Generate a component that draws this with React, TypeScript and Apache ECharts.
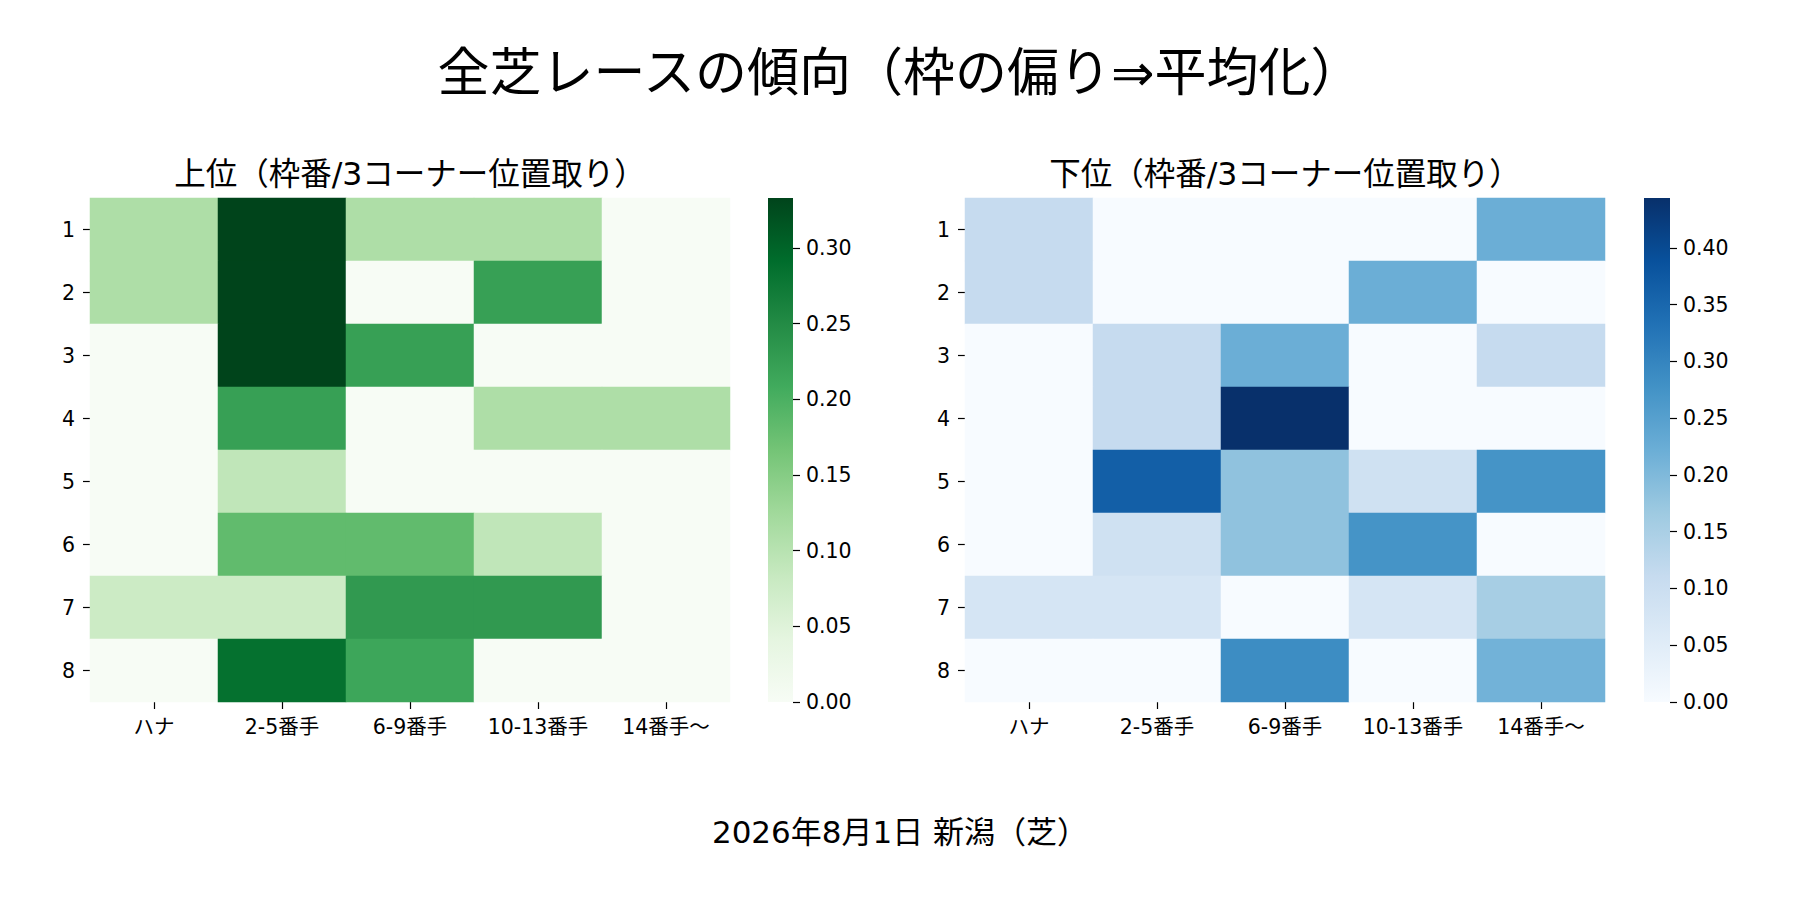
import React, { useEffect, useRef } from 'react';
import * as echarts from 'echarts';

const MAIN_TITLE = '全芝レースの傾向（枠の偏り⇒平均化）';
const TOP_TITLE = '上位（枠番/3コーナー位置取り）';
const BOTTOM_TITLE = '下位（枠番/3コーナー位置取り）';
const FOOTER = '2026年8月1日 新潟（芝）';

const positions = ['ハナ', '2-5番手', '6-9番手', '10-13番手', '14番手〜'];
const gates = ['1', '2', '3', '4', '5', '6', '7', '8'];

// rows = gate 1..8, columns = positions
const topRates = [
  [0.111, 0.333, 0.111, 0.111, 0],
  [0.111, 0.333, 0, 0.222, 0],
  [0, 0.333, 0.222, 0, 0],
  [0, 0.222, 0, 0.111, 0.111],
  [0, 0.091, 0, 0, 0],
  [0, 0.182, 0.182, 0.091, 0],
  [0.077, 0.077, 0.231, 0.231, 0],
  [0, 0.286, 0.214, 0, 0],
];
const bottomRates = [
  [0.111, 0, 0, 0, 0.222],
  [0.111, 0, 0, 0.222, 0],
  [0, 0.111, 0.222, 0, 0.111],
  [0, 0.111, 0.444, 0, 0],
  [0, 0.364, 0.182, 0.091, 0.273],
  [0, 0.091, 0.182, 0.273, 0],
  [0.077, 0.077, 0, 0.077, 0.154],
  [0, 0, 0.286, 0, 0.214],
];

const topTicks = [0, 0.05, 0.1, 0.15, 0.2, 0.25, 0.3];
const bottomTicks = [0, 0.05, 0.1, 0.15, 0.2, 0.25, 0.3, 0.35, 0.4];

const GREENS = ['#f7fcf5', '#e5f5e0', '#c7e9c0', '#a1d99b', '#74c476', '#41ab5d', '#238b45', '#006d2c', '#00441b'];
const BLUES = ['#f7fbff', '#deebf7', '#c6dbef', '#9ecae1', '#6baed6', '#4292c6', '#2171b5', '#08519c', '#08306b'];

const FONT = "'DejaVu Sans', 'Noto Sans CJK JP', sans-serif";
const TICK_FS = 20.5;

function toCells(rates: number[][]) {
  const out: number[][] = [];
  rates.forEach((row, r) => row.forEach((v, c) => out.push([c, r, v])));
  return out;
}

function gradient(colors: string[]) {
  return new echarts.graphic.LinearGradient(
    0, 1, 0, 0,
    colors.map((c, i) => ({ offset: i / (colors.length - 1), color: c }))
  );
}

export default function App() {
  const ref = useRef<HTMLDivElement>(null);

  useEffect(() => {
    if (!ref.current) return;
    const chart = echarts.init(ref.current, undefined, { renderer: 'svg' });
    const vmaxTop = Math.max(...topRates.flat());
    const vmaxBottom = Math.max(...bottomRates.flat());

    const tickStyle = { color: '#000', width: 1.2 };
    const labelBase = { fontFamily: FONT, fontSize: TICK_FS, color: '#000' };

    const catX = (gridIndex: number) => ({
      type: 'category', gridIndex, data: positions,
      axisLine: { show: false },
      axisTick: { show: true, alignWithLabel: true, length: 7, lineStyle: tickStyle },
      axisLabel: { ...labelBase, interval: 0, margin: 15 },
      splitLine: { show: false },
    });
    const catY = (gridIndex: number) => ({
      type: 'category', gridIndex, data: gates, inverse: true,
      axisLine: { show: false },
      axisTick: { show: true, alignWithLabel: true, length: 7, lineStyle: tickStyle },
      axisLabel: { ...labelBase, interval: 0, margin: 15 },
      splitLine: { show: false },
    });
    const cbX = (gridIndex: number) => ({
      type: 'category', gridIndex, data: [''], show: false,
    });
    const cbY = (gridIndex: number, vmax: number, ticks: number[]) => ({
      type: 'value', gridIndex, min: 0, max: vmax, position: 'right',
      axisLine: { show: false },
      splitLine: { show: false },
      axisTick: { show: true, length: 7, lineStyle: tickStyle, customValues: ticks },
      axisLabel: {
        ...labelBase, margin: 13, customValues: ticks,
        formatter: (v: number) => v.toFixed(2),
      },
    });

    const option: any = {
      animation: false,
      backgroundColor: '#ffffff',
      grid: [
        { left: 90, top: 198, width: 640, height: 504 },
        { left: 768, top: 198, width: 25, height: 504 },
        { left: 965, top: 198, width: 640, height: 504 },
        { left: 1644, top: 198, width: 26, height: 504 },
      ],
      xAxis: [catX(0), cbX(1), catX(2), cbX(3)],
      yAxis: [catY(0), cbY(1, vmaxTop, topTicks), catY(2), cbY(3, vmaxBottom, bottomTicks)],
      visualMap: [
        { type: 'continuous', show: false, seriesIndex: 0, dimension: 2, min: 0, max: vmaxTop, inRange: { color: GREENS } },
        { type: 'continuous', show: false, seriesIndex: 2, dimension: 2, min: 0, max: vmaxBottom, inRange: { color: BLUES } },
      ],
      series: [
        {
          type: 'heatmap', xAxisIndex: 0, yAxisIndex: 0, data: toCells(topRates),
          emphasis: { disabled: true }, silent: true,
        },
        {
          type: 'bar', xAxisIndex: 1, yAxisIndex: 1, data: [vmaxTop],
          barWidth: '100%', silent: true, itemStyle: { color: gradient(GREENS) },
        },
        {
          type: 'heatmap', xAxisIndex: 2, yAxisIndex: 2, data: toCells(bottomRates),
          emphasis: { disabled: true }, silent: true,
        },
        {
          type: 'bar', xAxisIndex: 3, yAxisIndex: 3, data: [vmaxBottom],
          barWidth: '100%', silent: true, itemStyle: { color: gradient(BLUES) },
        },
      ],
      graphic: [
        {
          type: 'text', x: 900, y: 73,
          style: { text: MAIN_TITLE, fontSize: 52, fontFamily: FONT, fill: '#000', align: 'center', verticalAlign: 'middle' },
        },
        {
          type: 'text', x: 410, y: 174,
          style: { text: TOP_TITLE, fontSize: 31.5, fontFamily: FONT, fill: '#000', align: 'center', verticalAlign: 'middle' },
        },
        {
          type: 'text', x: 1285, y: 174,
          style: { text: BOTTOM_TITLE, fontSize: 31.5, fontFamily: FONT, fill: '#000', align: 'center', verticalAlign: 'middle' },
        },
        {
          type: 'text', x: 900, y: 832,
          style: { text: FOOTER, fontSize: 31, fontFamily: FONT, fill: '#000', align: 'center', verticalAlign: 'middle' },
        },
      ],
    };

    chart.setOption(option);
    return () => chart.dispose();
  }, []);

  return (
    <div
      ref={ref}
      style={{ position: 'fixed', left: 0, top: 0, width: 1800, height: 900, background: '#fff' }}
    />
  );
}
